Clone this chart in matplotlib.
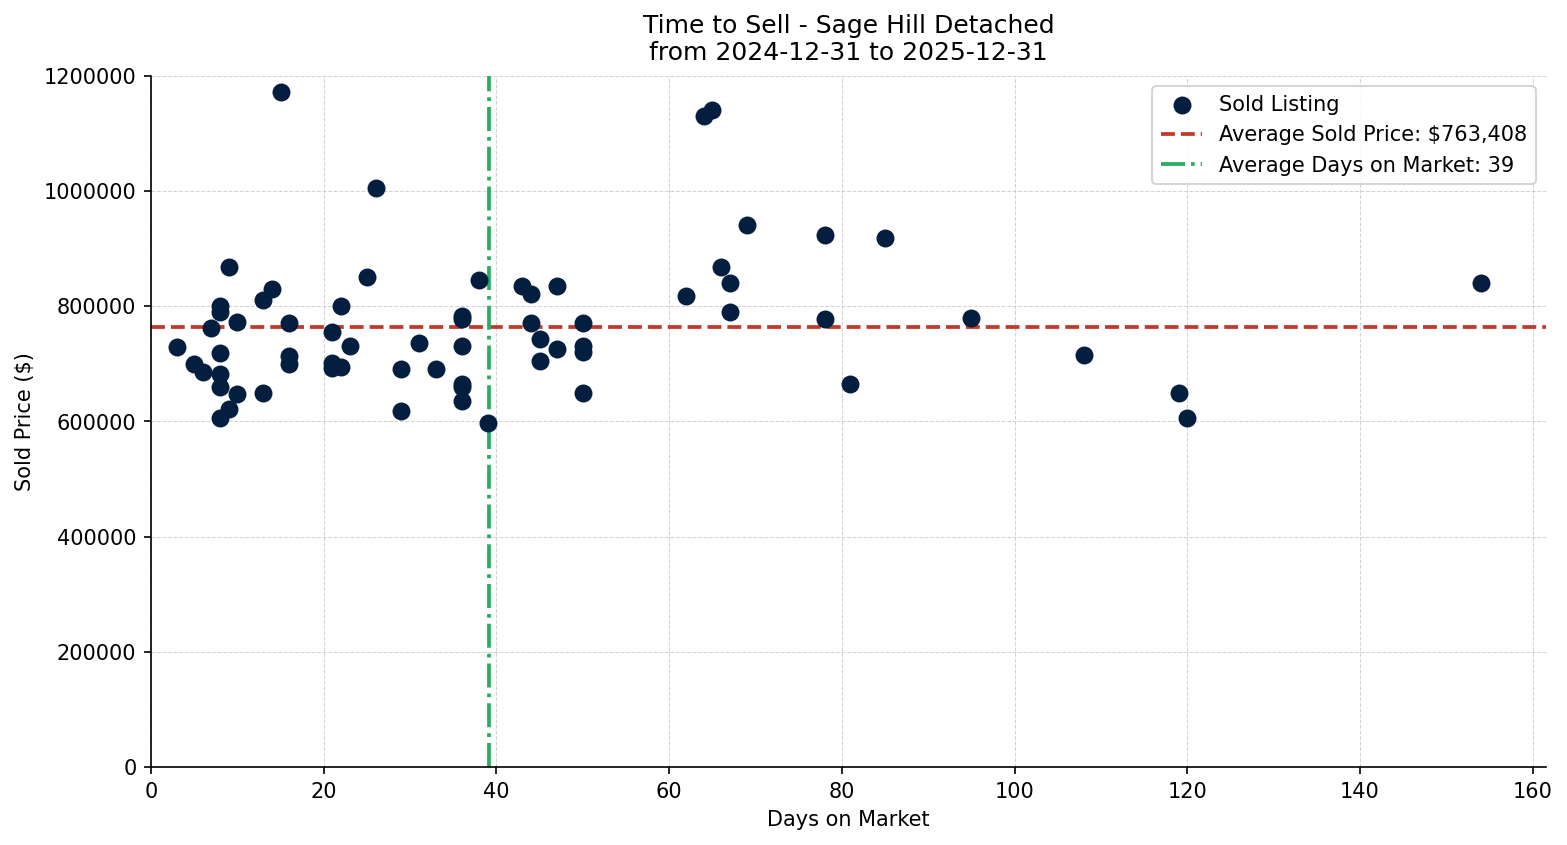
import matplotlib
matplotlib.use("Agg")
import matplotlib.pyplot as plt

# Sold listings: days on market and sold price
days_on_market = [
    3, 5, 6, 7, 8, 8, 8, 8, 8, 8, 9, 9, 10, 10, 13, 13, 14, 15, 16, 16, 16,
    21, 21, 21, 22, 22, 23, 25, 26, 29, 29, 31, 33, 36, 36, 36, 36, 36, 36,
    38, 39, 43, 44, 44, 45, 45, 47, 47, 50, 50, 50, 50, 62, 64, 65, 66, 67,
    67, 69, 78, 78, 81, 85, 95, 108, 119, 120, 154,
]
sold_price = [
    730000, 700000, 686000, 762000, 800000, 790000, 719000, 682000, 660000,
    606000, 868000, 621000, 772000, 648000, 811000, 649000, 830000, 1173000,
    771000, 714000, 700000, 755000, 701000, 693000, 800000, 694000, 731000,
    851000, 1005000, 691000, 618000, 736000, 691000, 783000, 778000, 731000,
    665000, 660000, 635000, 845000, 597000, 835000, 821000, 771000, 743000,
    705000, 835000, 726000, 771000, 731000, 720000, 649000, 818000, 1130000,
    1141000, 868000, 840000, 790000, 941000, 924000, 778000, 665000, 918000,
    780000, 715000, 649000, 606000, 840000,
]

# Averages as printed on the chart
avg_price = 763408
avg_days = 39.2

area = "Sage Hill Detached"
start_date = "2024-12-31"
end_date = "2025-12-31"

fig = plt.figure(figsize=(1567 / 150, 845 / 150), dpi=150)
ax = fig.add_axes([151 / 1567, 1 - 767 / 845, (1546 - 151) / 1567, (767 - 76) / 845])

ax.scatter(days_on_market, sold_price, s=58, color="#041e3f", zorder=3,
           label="Sold Listing")
ax.axhline(avg_price, color="#c0392b", linestyle="--", linewidth=1.8,
           label=f"Average Sold Price: ${avg_price:,.0f}")
ax.axvline(avg_days, color="#27ae60", linestyle="-.", linewidth=1.8,
           label=f"Average Days on Market: {avg_days:.0f}")

ax.set_xlim(0, 161.55)
ax.set_ylim(0, 1200000)
ax.ticklabel_format(axis="y", style="plain", useOffset=False)

ax.set_title(f"Time to Sell - {area}\nfrom {start_date} to {end_date}", fontsize=12, pad=7.5)
ax.set_xlabel("Days on Market")
ax.set_ylabel("Sold Price ($)")
ax.grid(True, linestyle="--", linewidth=0.5, color="#c8c8c8", alpha=0.8)
ax.set_axisbelow(True)
ax.spines["top"].set_visible(False)
ax.spines["right"].set_visible(False)
ax.legend(loc="upper right", fontsize=10)

fig.savefig("out.png", dpi=150)
